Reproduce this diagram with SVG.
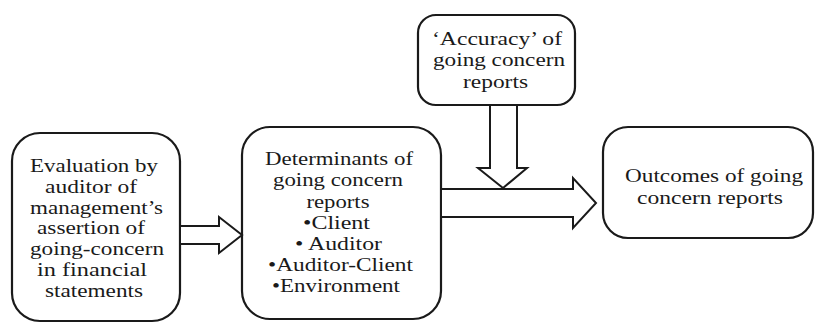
<svg xmlns="http://www.w3.org/2000/svg" width="817" height="323" viewBox="0 0 817 323">
<style>
.box{fill:#fff;stroke:#1a1a1a;stroke-width:2.2}
.arr{fill:#fff;stroke:#1a1a1a;stroke-width:2;stroke-linejoin:miter}
text{font-family:"Liberation Serif","Times New Roman",serif;font-size:19px;fill:#1a1a1a;text-anchor:middle}
</style>
<rect width="817" height="323" fill="#fff"/>
<g id="node-evaluation">
<rect class="box" x="12" y="133" width="168" height="188" rx="28"/>
<text x="94" y="172" textLength="128" lengthAdjust="spacingAndGlyphs">Evaluation by</text>
<text x="91" y="193" textLength="92" lengthAdjust="spacingAndGlyphs">auditor of</text>
<text x="96.5" y="213.5" textLength="133" lengthAdjust="spacingAndGlyphs">management’s</text>
<text x="91" y="234" textLength="108" lengthAdjust="spacingAndGlyphs">assertion of</text>
<text x="97" y="255" textLength="134" lengthAdjust="spacingAndGlyphs">going-concern</text>
<text x="92" y="276" textLength="110" lengthAdjust="spacingAndGlyphs">in  financial</text>
<text x="94" y="297" textLength="98" lengthAdjust="spacingAndGlyphs">statements</text>
</g>
<g id="node-determinants">
<rect class="box" x="242" y="127" width="199" height="192" rx="28"/>
<text x="339" y="165" textLength="148" lengthAdjust="spacingAndGlyphs">Determinants of</text>
<text x="338" y="186" textLength="130" lengthAdjust="spacingAndGlyphs">going concern</text>
<text x="338" y="207.5" textLength="63" lengthAdjust="spacingAndGlyphs">reports</text>
<text x="336.5" y="229" textLength="67" lengthAdjust="spacingAndGlyphs">•Client</text>
<text x="338.5" y="250" textLength="87" lengthAdjust="spacingAndGlyphs">• Auditor</text>
<text x="340.5" y="271" textLength="145" lengthAdjust="spacingAndGlyphs">•Auditor-Client</text>
<text x="336" y="292" textLength="128" lengthAdjust="spacingAndGlyphs">•Environment</text>
</g>
<g id="node-accuracy">
<rect class="box" x="418" y="15" width="157" height="90" rx="18"/>
<text x="497" y="45" textLength="130" lengthAdjust="spacingAndGlyphs">‘Accuracy’ of</text>
<text x="499" y="66" textLength="132" lengthAdjust="spacingAndGlyphs">going concern</text>
<text x="495.5" y="88" textLength="65" lengthAdjust="spacingAndGlyphs">reports</text>
</g>
<g id="node-outcomes">
<rect class="box" x="603" y="127" width="210" height="111" rx="25"/>
<text x="714" y="182" textLength="178" lengthAdjust="spacingAndGlyphs">Outcomes of going</text>
<text x="710" y="204" textLength="146" lengthAdjust="spacingAndGlyphs">concern reports</text>
</g>
<g id="connectors">
<polygon class="arr" points="180,226 219,226 219,217 242,235 219,253 219,244 180,244"/>
<polygon class="arr" points="441,189 573,189 573,178 596,203 573,228 573,217 441,217"/>
<polygon class="arr" points="490,105 517,105 517,168 527,168 503,188 478,168 490,168"/>
</g>
</svg>
